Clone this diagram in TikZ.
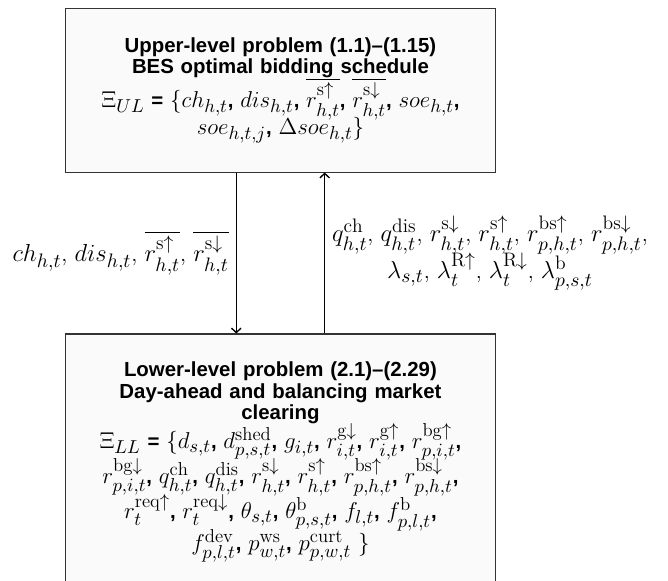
\RequirePackage{fix-cm}
\documentclass[tikz,border=0pt]{standalone}
\usepackage{amsmath,amssymb}
\usepackage{fontspec}
\setsansfont{Liberation Sans}
\usetikzlibrary{arrows.meta, positioning}
% larger scripts in the math of the boxes and labels
\DeclareMathSizes{12}{13.5}{11}{8}
\DeclareMathSizes{13}{14.5}{11.5}{8}
% no extra skip between touching lines
\newcommand{\tightlines}{\lineskip=0pt\relax}

\begin{document}
\begin{tikzpicture}[
    % Problem boxes (upper and lower level)
    probbox/.style={rectangle, draw=black!80, semithick, fill=black!2,
                    text width=245pt, align=center, inner sep=4pt,
                    font=\fontsize{12}{12.6}\selectfont\sffamily\bfseries\tightlines},
    % Variables passed between the levels
    varlabel/.style={align=center, inner sep=4pt,
                     font=\fontsize{13}{17}\selectfont},
    arrow/.style={-{Straight Barb[length=2.6pt, width=5.6pt]}, thick, black},
    node distance=94.7pt
]

\clip (-165pt,53.2pt) rectangle (228pt,-288.5pt);

%-------- UPPER LEVEL --------
\node[probbox, minimum height=96pt] at (0,0) (ul)
    {Upper-level problem (1.1)--(1.15)\\
     BES optimal bidding schedule\\
     $\Xi_{UL}$ = $\{ch_{h,t}$, $dis_{h,t}$, $\overline{r^{\mathrm{s}\uparrow}_{h,t}}$,
     $\overline{r^{\mathrm{s}\downarrow}_{h,t}}$, $soe_{h,t}$,\\[-1.5pt]
     $soe_{h,t,j}$, $\Delta soe_{h,t}\}$};

%-------- LOWER LEVEL --------
\node[probbox, minimum height=151pt, below=of ul] (ll)
    {Lower-level problem (2.1)--(2.29)\\
     Day-ahead and balancing market\\
     clearing\\
     $\Xi_{LL}$ = $\{d_{s,t}$, $d^{\mathrm{shed}}_{p,s,t}$, $g_{i,t}$,
     $r^{\mathrm{g}\downarrow}_{i,t}$, $r^{\mathrm{g}\uparrow}_{i,t}$,
     $r^{\mathrm{bg}\uparrow}_{p,i,t}$,\\[-1pt]
     $r^{\mathrm{bg}\downarrow}_{p,i,t}$, $q^{\mathrm{ch}}_{h,t}$, $q^{\mathrm{dis}}_{h,t}$,
     $r^{\mathrm{s}\downarrow}_{h,t}$, $r^{\mathrm{s}\uparrow}_{h,t}$,
     $r^{\mathrm{bs}\uparrow}_{p,h,t}$, $r^{\mathrm{bs}\downarrow}_{p,h,t}$,\\[-1pt]
     $r^{\mathrm{req}\uparrow}_{t}$, $r^{\mathrm{req}\downarrow}_{t}$, $\theta_{s,t}$,
     $\theta^{\mathrm{b}}_{p,s,t}$, $f_{l,t}$, $f^{\mathrm{b}}_{p,l,t}$,\\[-1pt]
     $f^{\mathrm{dev}}_{p,l,t}$, $p^{\mathrm{ws}}_{w,t}$, $p^{\mathrm{curt}}_{p,w,t}$ $\}$};

%-------- ARROWS --------
\draw[arrow] ([xshift=-26pt]ul.south) -- ([xshift=-26pt]ll.north)
    node[varlabel, midway, left] (downvars)
    {$ch_{h,t}$, $dis_{h,t}$, $\overline{r^{\mathrm{s}\uparrow}_{h,t}}$,
     $\overline{r^{\mathrm{s}\downarrow}_{h,t}}$};
\draw[arrow] ([xshift=26pt]ll.north) -- ([xshift=26pt]ul.south)
    node[varlabel, midway, right] (upvars)
    {$q^{\mathrm{ch}}_{h,t}$, $q^{\mathrm{dis}}_{h,t}$, $r^{\mathrm{s}\downarrow}_{h,t}$,
     $r^{\mathrm{s}\uparrow}_{h,t}$, $r^{\mathrm{bs}\uparrow}_{p,h,t}$,
     $r^{\mathrm{bs}\downarrow}_{p,h,t}$,\\[-2pt]
     $\lambda_{s,t}$, $\lambda^{\mathrm{R}\uparrow}_{t}$, $\lambda^{\mathrm{R}\downarrow}_{t}$,
     $\lambda^{\mathrm{b}}_{p,s,t}$};

\end{tikzpicture}
\end{document}
